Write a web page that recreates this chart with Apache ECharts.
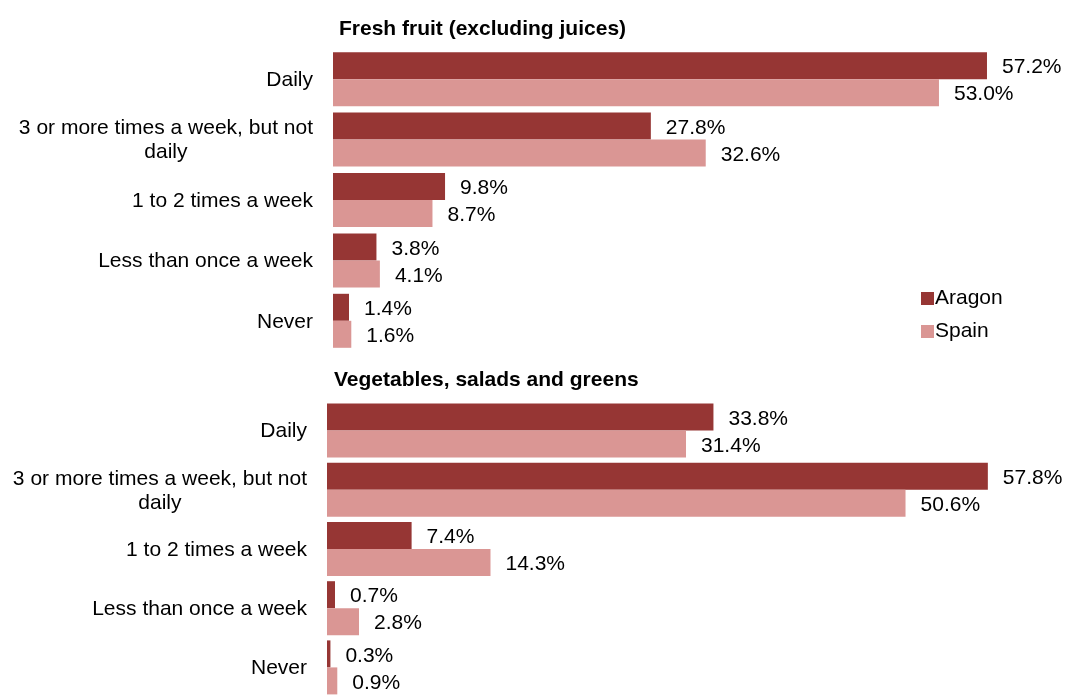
<!DOCTYPE html>
<html>
<head>
<meta charset="utf-8">
<script src="https://cdn.jsdelivr.net/npm/echarts@6/dist/echarts.min.js"></script>
<style>
  html, body { margin: 0; padding: 0; background: #fff; }
  #chart { width: 1067px; height: 697px; }
</style>
</head>
<body>
<div id="chart"></div>
<script>
var categories = ['Daily', '3 or more times a week, but not daily', '1 to 2 times a week', 'Less than once a week', 'Never'];
var fruitAragon = [57.2, 27.8, 9.8, 3.8, 1.4];
var fruitSpain = [53.0, 32.6, 8.7, 4.1, 1.6];
var vegAragon = [33.8, 57.8, 7.4, 0.7, 0.3];
var vegSpain = [31.4, 50.6, 14.3, 2.8, 0.9];

var darkRed = '#963634';
var lightRed = '#da9694';
var font = 'Liberation Sans, Arial, sans-serif';

var chart = echarts.init(document.getElementById('chart'), null, { renderer: 'canvas' });

function catLabel(v) {
    if (v === '3 or more times a week, but not daily') {
        return '{c|3 or more times a week, but not}\n{c|daily}';
    }
    return '{c|' + v + '}';
}

function yAxisFor(idx) {
    return {
        type: 'category',
        gridIndex: idx,
        data: categories,
        inverse: true,
        axisLine: { show: false },
        axisTick: { show: false },
        axisLabel: {
            formatter: catLabel,
            margin: 20,
            color: '#000',
            fontFamily: font,
            fontSize: 21,
            lineHeight: 24,
            rich: { c: { align: 'center', fontSize: 21, fontFamily: font, color: '#000', lineHeight: 24, padding: [2, 0, 0, 0] } }
        }
    };
}

function xAxisFor(idx) {
    return {
        type: 'value',
        gridIndex: idx,
        min: 0,
        max: 60,
        show: false
    };
}

function barSeries(name, data, color, idx) {
    return {
        name: name,
        type: 'bar',
        xAxisIndex: idx,
        yAxisIndex: idx,
        data: data,
        barWidth: 27,
        barGap: '0%',
        itemStyle: { color: color },
        label: {
            show: true,
            position: 'right',
            distance: 15,
            offset: [0, 2],
            color: '#000',
            fontFamily: font,
            fontSize: 21,
            formatter: function (d) {
                return d.value.toFixed(1) + '%';
            }
        }
    };
}

var option = {
    animation: false,
    title: [
        {
            text: 'Fresh fruit (excluding juices)',
            left: 334, top: 14,
            textStyle: { fontFamily: font, fontSize: 21, fontWeight: 'bold', color: '#000' }
        },
        {
            text: 'Vegetables, salads and greens',
            left: 329, top: 365,
            textStyle: { fontFamily: font, fontSize: 21, fontWeight: 'bold', color: '#000' }
        }
    ],
    legend: {
        data: ['Aragon', 'Spain'],
        orient: 'vertical',
        left: 916,
        top: 283,
        itemWidth: 13,
        itemHeight: 13,
        itemGap: 12,
        icon: 'rect',
        textStyle: { fontFamily: font, fontSize: 21, color: '#000', padding: [0, 0, 0, -4] }
    },
    grid: [
        { left: 333, top: 49, width: 686, height: 302 },
        { left: 327, top: 401, width: 686, height: 302 }
    ],
    xAxis: [xAxisFor(0), xAxisFor(1)],
    yAxis: [yAxisFor(0), yAxisFor(1)],
    series: [
        barSeries('Aragon', fruitAragon, darkRed, 0),
        barSeries('Spain', fruitSpain, lightRed, 0),
        barSeries('Aragon', vegAragon, darkRed, 1),
        barSeries('Spain', vegSpain, lightRed, 1)
    ]
};

chart.setOption(option);

window.addEventListener('resize', function () {
    chart.resize();
});
</script>
</body>
</html>
